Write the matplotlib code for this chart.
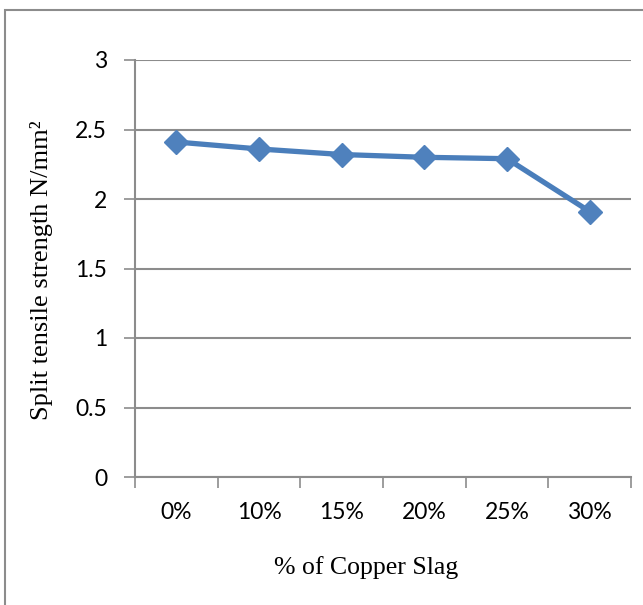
import matplotlib.pyplot as plt
import numpy as np
from matplotlib import rcParams

rcParams['font.family'] = ['Lato', 'DejaVu Sans']
rcParams['xtick.labelsize'] = 16.5
rcParams['ytick.labelsize'] = 16.5

# data
categories = ['0%', '10%', '15%', '20%', '25%', '30%']
strength = [2.41, 2.36, 2.32, 2.30, 2.29, 1.91]
y_ticks = [0, 0.5, 1, 1.5, 2, 2.5, 3]
y_ticklabels = ['0', '0.5', '1', '1.5', '2', '2.5', '3']

W, H = 643, 605
fig = plt.figure(figsize=(W / 100, H / 100), dpi=100)

# plot area in pixels: x 135..631, y 60..477
ax = fig.add_axes([135 / W, 1 - 477 / H, (631 - 135) / W, (477 - 60) / H])

x = np.arange(len(categories))
blue = '#4a7ebb'
ax.plot(x, strength, color=blue, lw=3.8, marker='D', ms=12.5,
        mfc='#4f81bd', mec='#4f81bd', zorder=5, clip_on=False)

ax.set_xlim(-0.5, len(categories) - 0.5)
ax.set_ylim(0, 3)

grid_col = '#8c8c8c'
ax.set_yticks(y_ticks)
ax.set_yticklabels(y_ticklabels)
ax.yaxis.grid(True, color=grid_col, lw=1.5)
ax.set_axisbelow(True)

# category boundaries get tick marks, centres get labels
ax.set_xticks(np.arange(-0.5, len(categories), 1.0))
ax.set_xticklabels([])
ax.set_xticks(x, minor=True)
ax.set_xticklabels(categories, minor=True)

ax.tick_params(axis='y', length=8, width=1.2, color=grid_col, pad=12,
               labelcolor='black')
ax.tick_params(axis='x', which='major', length=8, width=1.2, color=grid_col)
ax.tick_params(axis='x', which='minor', length=0, pad=18)

for side in ['top', 'right']:
    ax.spines[side].set_visible(False)
for side in ['left', 'bottom']:
    ax.spines[side].set_color(grid_col)
    ax.spines[side].set_linewidth(1.5)

fig.text(42 / W, 1 - 270 / H, 'Split tensile strength N/mm²', rotation=90,
         ha='center', va='center', fontsize=19, family='Liberation Serif')
fig.text(366 / W, 1 - 568 / H, '% of Copper Slag', ha='center', va='center',
         fontsize=18.5, family='Liberation Serif')

# outer chart border
fig.patches.append(plt.Rectangle((5 / W, -0.1), 2, 1 - 10 / H + 0.1,
                                 transform=fig.transFigure, fill=False,
                                 ec='#8c8c8c', lw=1.5))

fig.savefig('out.png', dpi=100)
